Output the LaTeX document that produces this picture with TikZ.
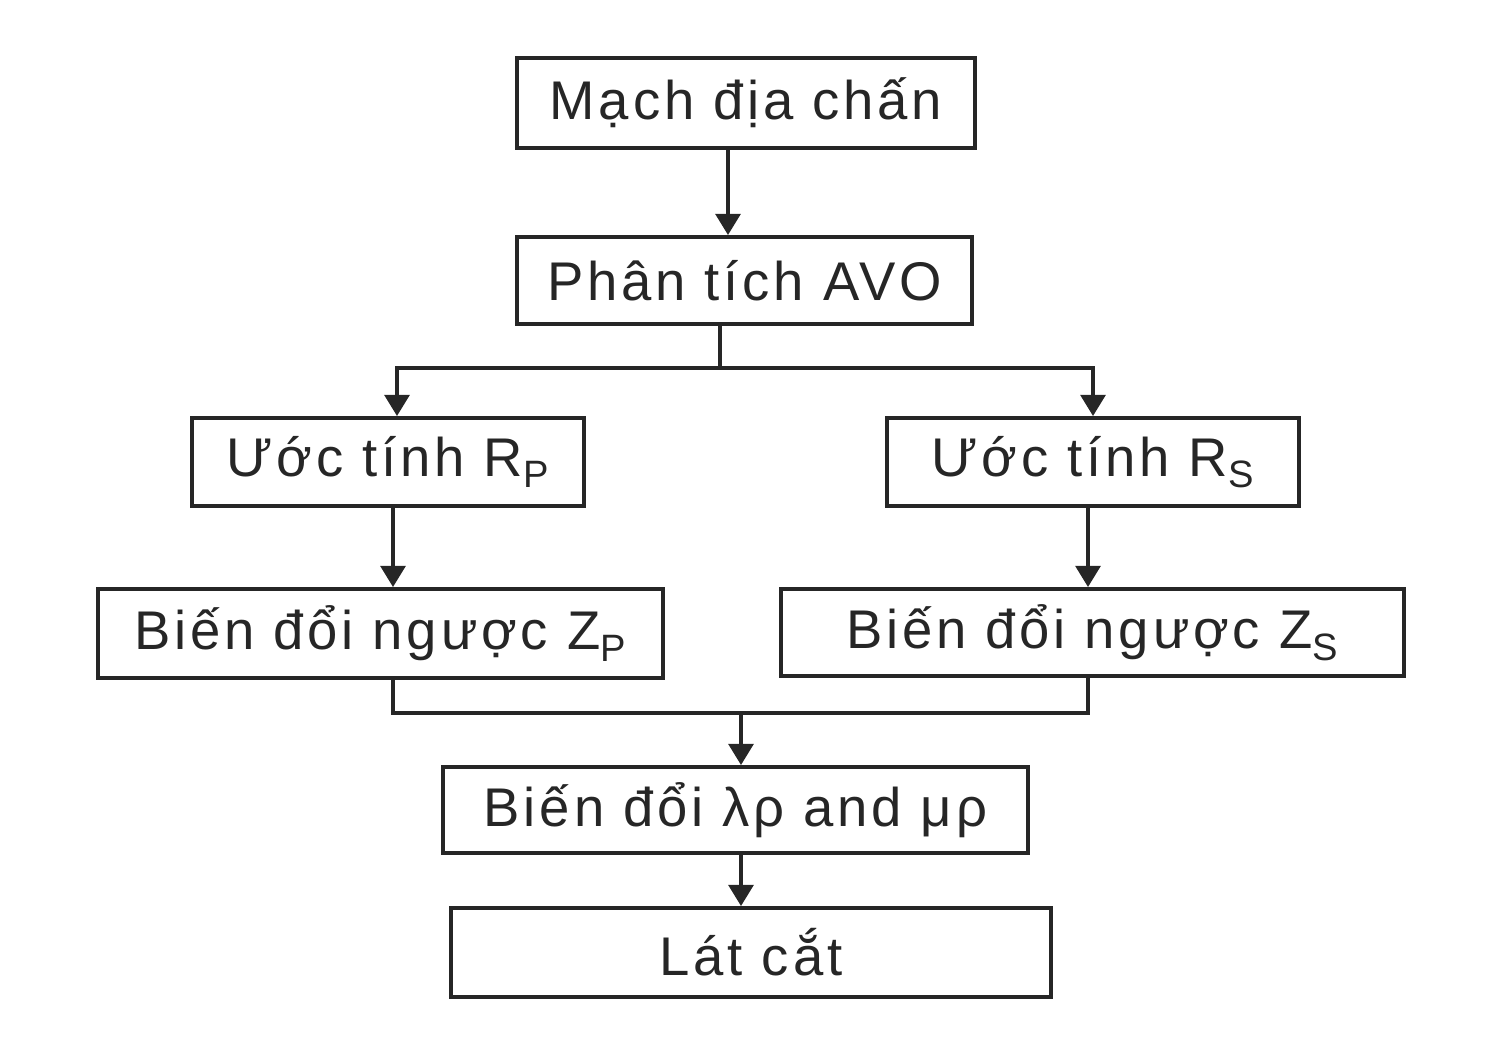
\documentclass[tikz,border=0pt]{standalone}
\usepackage{fontspec}
\setmainfont[LetterSpace=7]{Liberation Sans}
\usetikzlibrary{arrows.meta}
\begin{document}
\begin{tikzpicture}[x=0.02cm,y=-0.02cm,
  box/.style={draw=black!85,line width=2.2pt,inner sep=0pt,font=\fontsize{31}{34}\selectfont,text=black!85},
  conn/.style={draw=black!85,line width=2.2pt},
  arr/.style={conn,-{Triangle[length=12pt,width=14pt]}}]
\useasboundingbox (0,0) rectangle (1500,1050);
\newcommand{\bx}[6]{\node[box,minimum width={(#4-#2)*0.02cm},minimum height={(#5-#3)*0.02cm}] (#1) at ({(#2+#4)/2},{(#3+#5)/2}) {#6};}
\bx{a}{517}{58}{975}{148}{Mạch địa chấn}
\bx{b}{517}{237}{972}{324}{Phân tích AVO}
\bx{c}{192}{418}{584}{506}{Ước tính R\textsubscript{P}}
\bx{d}{887}{418}{1299}{506}{Ước tính R\textsubscript{S}}
\bx{e}{98}{589}{663}{678}{Biến đổi ngược Z\textsubscript{P}}
\bx{f}{781}{589}{1404}{676}{Biến đổi ngược Z\textsubscript{S}}
\bx{g}{443}{767}{1028}{853}{Biến đổi λρ and μρ}
\bx{h}{451}{908}{1051}{997}{Lát cắt}
\coordinate (s) at (720,368);
\coordinate (m) at (741,713);
\draw[arr] (a.south -| 728,0) -- (b.north -| 728,0);
\draw[conn] (b.south -| s) -- (s);
\draw[arr] (s) -| (c.north -| 397,0);
\draw[arr] (s) -| (d.north -| 1093,0);
\draw[arr] (c.south -| 393,0) -- (e.north -| 393,0);
\draw[arr] (d.south -| 1088,0) -- (f.north -| 1088,0);
\draw[conn] (e.south -| 393,0) |- (m) -| (f.south -| 1088,0);
\draw[arr] (m) -- (g.north -| m);
\draw[arr] (g.south -| m) -- (h.north -| m);
\end{tikzpicture}
\end{document}
